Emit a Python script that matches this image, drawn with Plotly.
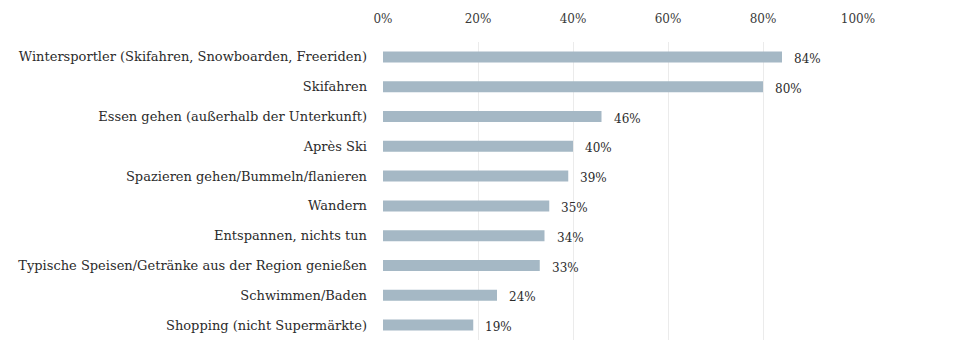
import plotly.graph_objects as go

# Activities, top to bottom, with share of respondents
activities = [
    "Wintersportler (Skifahren, Snowboarden, Freeriden)",
    "Skifahren",
    "Essen gehen (außerhalb der Unterkunft)",
    "Après Ski",
    "Spazieren gehen/Bummeln/flanieren",
    "Wandern",
    "Entspannen, nichts tun",
    "Typische Speisen/Getränke aus der Region genießen",
    "Schwimmen/Baden",
    "Shopping (nicht Supermärkte)",
]
shares = [84, 80, 46, 40, 39, 35, 34, 33, 24, 19]
tick_values = [0, 20, 40, 60, 80, 100]
tick_labels = ["0%", "20%", "40%", "60%", "80%", "100%"]

FONT = "DejaVu Serif"

fig = go.Figure(
    go.Bar(
        x=shares,
        y=activities,
        orientation="h",
        marker=dict(color="#a5b8c5", line=dict(width=0)),
        hoverinfo="skip",
    )
)

# Value labels to the right of each bar
for act, v in zip(activities, shares):
    fig.add_annotation(
        x=v, y=act, text=f"{v}%", showarrow=False,
        xanchor="left", yanchor="middle", xshift=10, yshift=-2,
        font=dict(family=FONT, size=12, color="#2b2b2b"),
    )

fig.update_layout(
    width=957,
    height=340,
    margin=dict(l=383, r=99, t=42, b=0),
    paper_bgcolor="white",
    plot_bgcolor="white",
    bargap=0.63,
    showlegend=False,
    font=dict(family=FONT, size=13, color="#2b2b2b"),
    xaxis=dict(
        side="top",
        range=[0, 100],
        tickvals=tick_values,
        ticktext=tick_labels,
        showgrid=True,
        gridcolor="#ebebeb",
        gridwidth=1,
        zeroline=False,
        showline=False,
        ticks="",
        ticklabelstandoff=16,
        tickfont=dict(family=FONT, size=12, color="#3a3a3a"),
        fixedrange=True,
    ),
    yaxis=dict(
        autorange="reversed",
        showgrid=False,
        zeroline=False,
        showline=False,
        ticks="",
        ticklabelstandoff=15,
        tickfont=dict(family=FONT, size=13, color="#2b2b2b"),
        fixedrange=True,
    ),
)

fig.write_html("out.html", config={"displayModeBar": False})
